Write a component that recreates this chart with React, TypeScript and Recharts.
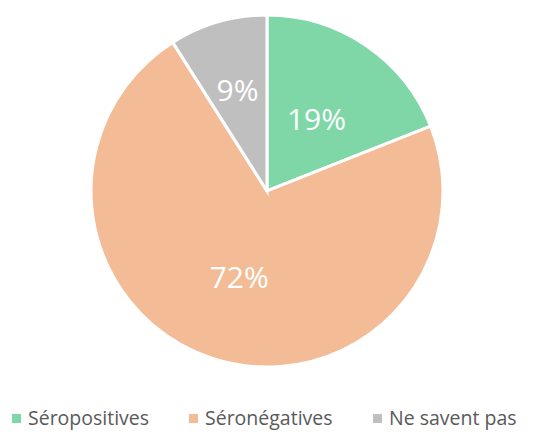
import React from 'react';
import { PieChart, Pie, Cell, Legend } from 'recharts';

const categories = ['Séropositives', 'Séronégatives', 'Ne savent pas'];
const values = [19, 72, 9];
const colors = ['#7fd7a7', '#f4bc96', '#bfbfbf'];
const labelRadiusFrac = [0.5, 0.51, 0.6];

const data = categories.map((name, i) => ({ name, value: values[i] }));

const RAD = Math.PI / 180;

const renderLabel = (props: any) => {
  const { cx, cy, midAngle, outerRadius, index, value } = props;
  const r = outerRadius * labelRadiusFrac[index];
  const x = cx + r * Math.cos(-midAngle * RAD);
  const y = cy + r * Math.sin(-midAngle * RAD);
  return (
    <text
      x={x}
      y={y}
      fill="#ffffff"
      fontSize={30}
      fontFamily="'Open Sans', sans-serif"
      textAnchor="middle"
      dominantBaseline="central"
    >
      {`${value}%`}
    </text>
  );
};

const legendX = [12, 189, 373];

const renderLegend = () => (
  <div style={{ position: 'relative', width: 534, height: 30 }}>
    {categories.map((c, i) => (
      <div
        key={c}
        style={{
          position: 'absolute',
          left: legendX[i],
          top: 0,
          display: 'flex',
          alignItems: 'center',
          fontFamily: "'Open Sans', sans-serif",
          fontSize: 19.5,
          lineHeight: '28px',
          color: '#595959',
          whiteSpace: 'nowrap',
        }}
      >
        <span style={{ display: 'inline-block', width: 9, height: 9, background: colors[i], marginRight: 7 }} />
        <span>{c}</span>
      </div>
    ))}
  </div>
);

export default function App() {
  return (
    <div style={{ position: 'absolute', left: 0, top: 0, width: 534, height: 432, background: '#fff' }}>
      <PieChart width={534} height={432} margin={{ top: 0, right: 0, bottom: 0, left: 0 }}>
        <Pie
          data={data}
          dataKey="value"
          nameKey="name"
          cx={267}
          cy={191}
          outerRadius={176}
          startAngle={90}
          endAngle={-270}
          stroke="#ffffff"
          strokeWidth={3}
          label={renderLabel}
          labelLine={false}
          isAnimationActive={false}
        >
          {data.map((d, i) => (
            <Cell key={d.name} fill={colors[i]} />
          ))}
        </Pie>
        <Legend
          content={renderLegend}
          wrapperStyle={{ position: 'absolute', left: 0, top: 404, width: 534 }}
        />
      </PieChart>
    </div>
  );
}
